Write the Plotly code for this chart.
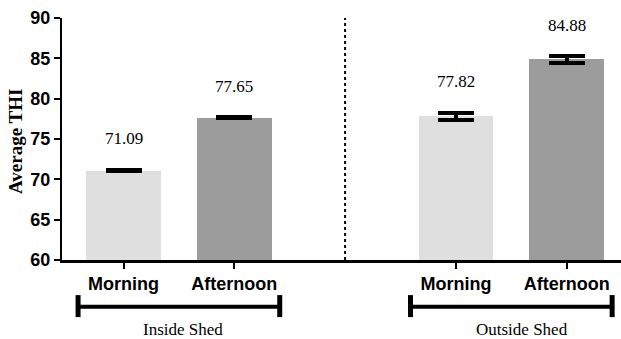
import plotly.graph_objects as go

# Average temperature-humidity index by location and time of day
groups = ["Inside Shed", "Outside Shed"]
sessions = ["Morning", "Afternoon"]
thi_mean = [71.09, 77.65, 77.82, 84.88]
thi_err = [0.10, 0.05, 0.42, 0.40]
y_ticks = [60, 65, 70, 75, 80, 85, 90]

# bar positions: two bars per group with an empty slot between groups
positions = [0, 1, 3, 4]
tick_text = sessions * len(groups)
session_colors = {"Morning": "#dedfde", "Afternoon": "#9b9c9b"}
bar_colors = [session_colors[s] for s in tick_text]
group_label_shift = [4, 11]

SANS = "Arial, Liberation Sans, sans-serif"
SERIF = "Times New Roman, Liberation Serif, serif"

fig = go.Figure()
fig.add_trace(go.Bar(
    x=positions,
    y=thi_mean,
    width=0.675,
    marker=dict(color=bar_colors, line=dict(width=0)),
    error_y=dict(type="data", array=thi_err, visible=True,
                 color="black", thickness=4, width=18),
    showlegend=False,
    hoverinfo="skip",
))

# value labels above each bar
for x, v, e in zip(positions, thi_mean, thi_err):
    fig.add_annotation(x=x, y=v + e, text=f"{v:.2f}", showarrow=False,
                       yshift=31, yanchor="middle",
                       font=dict(family=SERIF, size=17, color="black"))

# dotted separator between the two groups
fig.add_shape(type="line", xref="x", yref="y", x0=2, x1=2, y0=60, y1=90,
              line=dict(color="black", width=2, dash="dot"))

# group brackets and names under the axis
for gi, name in enumerate(groups):
    centre = (positions[2 * gi] + positions[2 * gi + 1]) / 2
    x0, x1 = centre - 0.91, centre + 0.91
    fig.add_shape(type="line", xref="x", yref="paper", x0=x0, x1=x1,
                  y0=-0.193, y1=-0.193, line=dict(color="black", width=4))
    for xe in (x0, x1):
        fig.add_shape(type="line", xref="x", yref="paper", x0=xe, x1=xe,
                      y0=-0.145, y1=-0.236, line=dict(color="black", width=5))
    fig.add_annotation(x=centre, xref="x", y=-0.289, yref="paper", text=name,
                       showarrow=False, yanchor="middle",
                       xshift=group_label_shift[gi],
                       font=dict(family=SERIF, size=17, color="black"))

# y-axis title
fig.add_annotation(x=-0.083, xref="paper", y=0.49, yref="paper",
                   text="<b>Average THI</b>", textangle=-90, showarrow=False,
                   xanchor="center", yanchor="middle",
                   font=dict(family=SERIF, size=19, color="black"))

fig.update_xaxes(
    range=[-0.555, 4.49],
    tickmode="array", tickvals=positions,
    ticktext=[f"<b>{t}</b>" for t in tick_text],
    ticks="outside", ticklen=6, tickwidth=2, tickcolor="black",
    showline=True, linecolor="black", linewidth=2.5,
    showgrid=False, zeroline=False,
    tickfont=dict(family=SANS, size=18, color="black"),
)
fig.update_yaxes(
    range=[60, 90],
    tickmode="array", tickvals=y_ticks,
    ticktext=[f"<b>{t}</b>" for t in y_ticks],
    ticks="outside", ticklen=6, tickwidth=2, tickcolor="black",
    showline=True, linecolor="black", linewidth=2,
    showgrid=False, zeroline=False,
    tickfont=dict(family=SANS, size=18, color="black"),
)

fig.update_layout(
    width=621, height=339,
    margin=dict(l=62, r=0, t=18, b=79),
    plot_bgcolor="white", paper_bgcolor="white",
    bargap=0,
)

fig.write_html("out.html")
